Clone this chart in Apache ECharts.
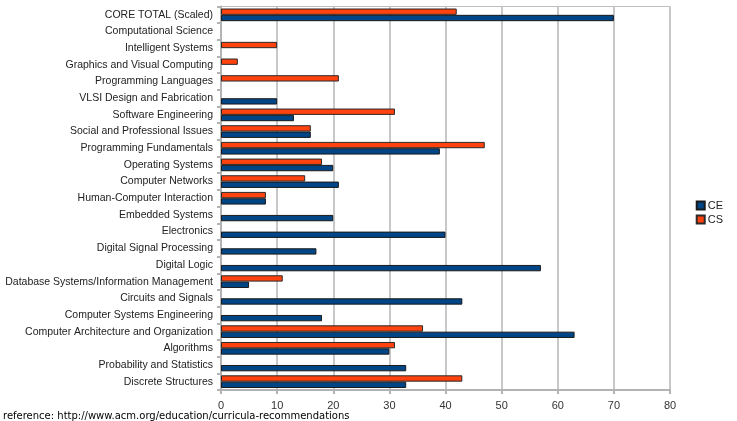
<!DOCTYPE html>
<html>
<head>
<meta charset="utf-8">
<script src="https://cdn.jsdelivr.net/npm/echarts@6/dist/echarts.min.js"></script>
<style>
html,body{margin:0;padding:0;background:#fff;}
#c{width:737px;height:421px;}
</style>
</head>
<body>
<div id="c"></div>
<script>
var categories = [
  "CORE TOTAL (Scaled)",
  "Computational Science",
  "Intelligent Systems",
  "Graphics and Visual Computing",
  "Programming Languages",
  "VLSI Design and Fabrication",
  "Software Engineering",
  "Social and Professional Issues",
  "Programming Fundamentals",
  "Operating Systems",
  "Computer Networks",
  "Human-Computer Interaction",
  "Embedded Systems",
  "Electronics",
  "Digital Signal Processing",
  "Digital Logic",
  "Database Systems/Information Management",
  "Circuits and Signals",
  "Computer Systems Engineering",
  "Computer Architecture and Organization",
  "Algorithms",
  "Probability and Statistics",
  "Discrete Structures"
];
var ceValues = [70, null, null, null, null, 10, 13, 16, 39, 20, 21, 8, 20, 40, 17, 57, 5, 43, 18, 63, 30, 33, 33];
var csValues = [42, null, 10, 3, 21, null, 31, 16, 47, 18, 15, 8, null, null, null, null, 11, null, null, 36, 31, null, 43];
var xTicks = [0, 10, 20, 30, 40, 50, 60, 70, 80];
var footnote = "reference: http://www.acm.org/education/curricula-recommendations";

var chart = echarts.init(document.getElementById('c'));
chart.setOption({
  animation: false,
  backgroundColor: '#ffffff',
  textStyle: {fontFamily: 'Liberation Sans, Arial, sans-serif'},
  grid: {left: 221, right: 67, top: 6.5, bottom: 31, outerBoundsMode: 'none', containLabel: false,
         show: true, borderColor: '#c0c0c0', borderWidth: 1, backgroundColor: 'transparent'},
  legend: {
    orient: 'vertical', right: 9, top: 195,
    data: ['CE', 'CS'],
    itemWidth: 8, itemHeight: 8, itemGap: 3,
    icon: 'rect',
    textStyle: {fontSize: 11, color: '#222', padding: [0,0,0,-2]}
  },
  xAxis: {
    type: 'value', min: xTicks[0], max: xTicks[xTicks.length-1], interval: 10,
    axisLine: {show: true, lineStyle: {color: '#b3b3b3', width: 2}},
    axisTick: {show: true, length: 4, lineStyle: {color: '#b3b3b3', width: 2}},
    axisLabel: {fontSize: 11, color: '#333', margin: 10},
    splitLine: {show: true, lineStyle: {color: '#c8c8c8', width: 2}}
  },
  yAxis: {
    type: 'category', data: categories, inverse: true,
    axisLine: {show: true, lineStyle: {color: '#b3b3b3', width: 2}},
    axisTick: {show: true, length: 4, lineStyle: {color: '#b3b3b3', width: 2}},
    axisLabel: {fontSize: 10.5, color: '#222', margin: 8},
    splitLine: {show: false}
  },
  series: [
    {name: 'CS', type: 'bar', data: csValues, barGap: '0%', barCategoryGap: '24%',
     itemStyle: {color: '#ff420e', borderColor: '#2a2a2a', borderWidth: 1}},
    {name: 'CE', type: 'bar', data: ceValues, barGap: '0%', barCategoryGap: '24%',
     itemStyle: {color: '#004586', borderColor: '#1a1a1a', borderWidth: 1}}
  ],
  graphic: [{
    type: 'text', left: 3, top: 411,
    style: {text: footnote, font: '10px "DejaVu Sans"', fill: '#000'}
  }]
});
</script>
</body>
</html>
